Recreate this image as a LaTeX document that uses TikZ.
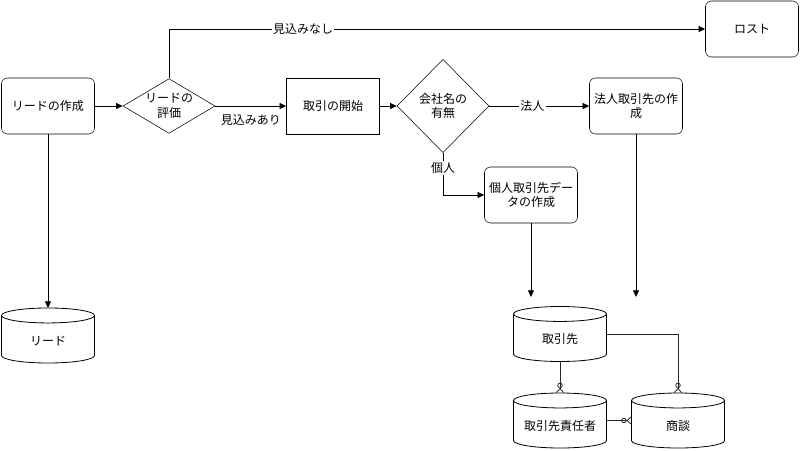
\documentclass[tikz,border=0pt]{standalone}
\usepackage{fontspec}
\setmainfont{Noto Sans CJK JP}
\usetikzlibrary{arrows.meta,shapes.geometric}

\tikzset{
  every node/.style={font=\fontsize{9}{11}\selectfont},
  procbox/.style={draw, rounded corners=4.5pt, minimum width=69.75pt, minimum height=42pt, align=center, inner sep=1pt},
  plainbox/.style={draw, minimum width=69.75pt, minimum height=42pt, align=center},
  decision/.style={draw, diamond, shape aspect=1.67, minimum width=69pt, minimum height=41pt, inner sep=0pt, align=center},
  store/.style={minimum width=69.75pt, minimum height=41.25pt, inner sep=0pt, outer sep=0pt, text height=14.5pt, text depth=0pt},
  flow/.style={-{Triangle[length=5pt,width=4.5pt]}, line width=0.6pt},
  relation/.style={-{Circle[open,length=4pt,width=4pt] Straight Barb[reversed,length=3pt,width=5.5pt]}, line width=0.6pt, black!85},
  lbl/.style={fill=white, inner sep=1pt}
}

% cylinder outline round a store node
\newcommand{\drawstore}[1]{%
  \draw[line width=0.6pt] ([yshift=-5.6pt]#1.north west) arc[start angle=180, end angle=-180, x radius=34.875pt, y radius=5.6pt];
  \draw[line width=0.6pt] ([yshift=-5.6pt]#1.north west) -- ([yshift=5.6pt]#1.south west)
    arc[start angle=180, end angle=360, x radius=34.875pt, y radius=5.6pt] -- ([yshift=-5.6pt]#1.north east);
}

\begin{document}
\begin{tikzpicture}[x=0.75pt,y=-0.75pt]
  \useasboundingbox (0,0) rectangle (800,450);

  % flow
  \node[procbox] (lead make) at (48,106) {リードの作成};
  \node[decision] (eval) at (169,106) {リードの\\評価};
  \node[plainbox] (start) at (333,106) {取引の開始};
  \node[decision, minimum height=70pt, shape aspect=1.3] (company) at (443,106) {会社名の\\有無};
  \node[procbox] (corp) at (636,106) {法人取引先の作\\成};
  \node[procbox] (person) at (531,195) {個人取引先デー\\タの作成};
  \node[procbox] (lost) at (752,29) {ロスト};

  % data stores
  \node[store] (lead db) at (48,335.5) {リード};
  \node[store] (partner) at (560,334) {取引先};
  \node[store] (contact) at (560,420.5) {取引先責任者};
  \node[store] (deal) at (678,420.5) {商談};
  \drawstore{lead db}
  \drawstore{partner}
  \drawstore{contact}
  \drawstore{deal}

  \coordinate (person end) at (531,297);
  \coordinate (corp end) at (636,297);

  \draw[flow] (lead make) -- (eval);
  \draw[flow] (eval) -- node[below=3pt]{見込みあり} (start);
  \draw[flow] (eval.north) |- node[pos=0.625, lbl]{見込みなし} (lost.west);
  \draw[flow] (start) -- (company);
  \draw[flow] (company) -- node[pos=0.43, lbl]{法人} (corp);
  \draw[flow] (company.south) |- node[pos=0.18, lbl]{個人} (person.west);
  \draw[flow] (lead make.south) -- (lead db.north);
  \draw[flow] (person.south) -- (person end);
  \draw[flow] (corp.south) -- (corp end);

  % relations
  \draw[relation] (partner.south) -- (contact.north);
  \draw[relation] (partner.east) -| (deal.north);
  \draw[relation] (contact.east) -- (deal.west);
\end{tikzpicture}
\end{document}
